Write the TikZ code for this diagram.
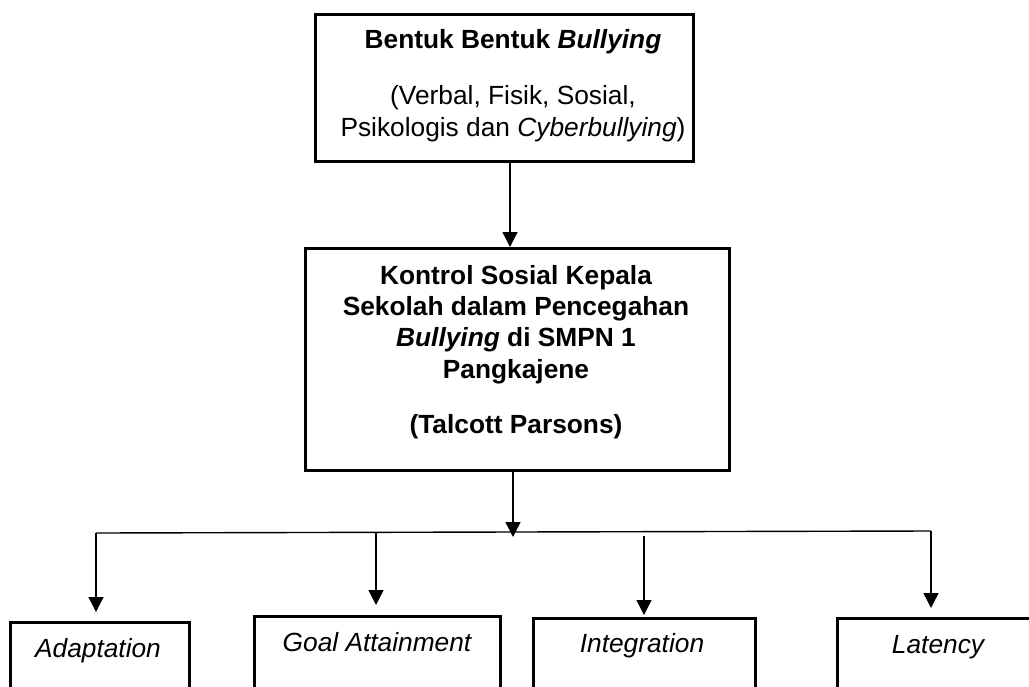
\documentclass[tikz,border=0pt]{standalone}
\usepackage{fontspec}
\setmainfont{Liberation Sans}
\usetikzlibrary{arrows.meta}
\begin{document}
\begin{tikzpicture}[x=1pt,y=-1pt,
  box/.style={draw=black,line width=2.6pt,inner sep=0pt,anchor=north west},
  txt/.style={inner sep=0pt,anchor=base,align=center,font=\fontsize{26.3}{32}\selectfont},
  itxt/.style={txt,font=\itshape\fontsize{26.3}{26.5}\selectfont},
  conn/.style={line width=1.4pt,-{Triangle[width=15pt,length=15pt]}},
  plain/.style={line width=1.4pt}]
\useasboundingbox (0,0) rectangle (1029,686);
% boxes
\node[box,minimum width=378pt,minimum height=147pt] (top) at (314,13) {};
\node[box,minimum width=424pt,minimum height=222pt] (mid) at (304,247) {};
\node[box,minimum width=179pt,minimum height=100pt] (ad) at (9,621) {};
\node[box,minimum width=246pt,minimum height=100pt] (ga) at (253,615) {};
\node[box,minimum width=222pt,minimum height=100pt] (in) at (532,617) {};
\node[box,minimum width=204pt,minimum height=100pt] (la) at (836,617) {};
% texts (anchor base = baseline of last line)
\node[txt,font=\bfseries\fontsize{26.3}{26.5}\selectfont] (t1) at (513,48) {Bentuk Bentuk \textit{Bullying}};
\node[txt] (t2) at (513,136) {(Verbal, Fisik, Sosial,\\Psikologis dan \textit{Cyberbullying})};
\node[txt,font=\bfseries\fontsize{26.3}{31.3}\selectfont] (m1) at (516,378) {Kontrol Sosial Kepala\\Sekolah dalam Pencegahan\\\textit{Bullying} di SMPN 1\\Pangkajene};
\node[txt,font=\bfseries\fontsize{26.3}{30}\selectfont] (m2) at (516,433) {(Talcott Parsons)};
\node[itxt] (adt) at (98,657) {Adaptation};
\node[itxt] (gat) at (377,651) {Goal Attainment};
\node[itxt] (int) at (642,652) {Integration};
\node[itxt] (lat) at (938,653) {Latency};
% connectors
\coordinate (hl) at (96,533);
\coordinate (hr) at (931,531);
\coordinate (hm) at (513,537);
\coordinate (adtip) at (96,612);
\coordinate (g0) at (376,533);
\coordinate (gatip) at (376,605);
\coordinate (i0) at (644,536);
\coordinate (intip) at (644,615);
\coordinate (latip) at (931,608);
\draw[conn] (top.south -| 510,0) -- (mid.north -| 510,0);
\draw[conn] (mid.south -| hm) -- (hm);
\draw[plain] (hl) -- (hr);
\draw[conn] (hl) -- (adtip);
\draw[conn] (g0) -- (gatip);
\draw[conn] (i0) -- (intip);
\draw[conn] (hr) -- (latip);
\end{tikzpicture}
\end{document}
